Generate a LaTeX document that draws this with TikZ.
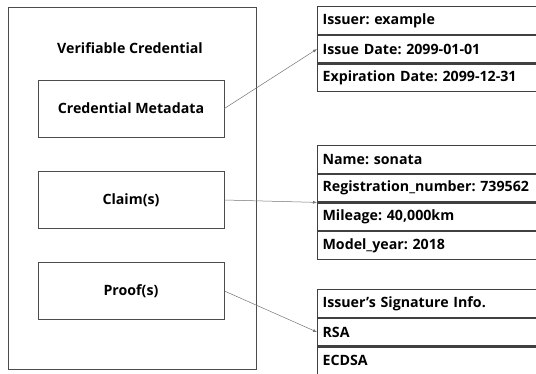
\documentclass[tikz,border=0pt]{standalone}
\usepackage{fontspec}
\setmainfont{Open Sans}
\frenchspacing
\usepackage{tikz}
\usetikzlibrary{calc,arrows.meta}

\tikzset{
    part/.style={draw=black!70, line width=0.8pt, minimum width=186pt, minimum height=57pt, font=\bfseries\fontsize{14.2}{16}\selectfont},
    row/.style={draw=black!75, line width=1.2pt, anchor=north west, minimum height=27.5pt, text width=240pt, inner xsep=5pt, align=left, font=\bfseries\fontsize{14.2}{16}\selectfont},
    link/.style={draw=black!55, line width=0.5pt, -{Latex[length=4pt,width=3pt]}}
}

\begin{document}
\begin{tikzpicture}[x=1pt,y=-1pt]
            \useasboundingbox (0,0) rectangle (536,373);
            \clip (0,0) rectangle (536,373);

            % the credential and its three parts
            \node[draw=black!70, line width=0.8pt, anchor=north west, minimum width=248pt, minimum height=362pt] (vc) at (8,7) {};
            \node[font=\bfseries\fontsize{14.2}{16}\selectfont] (title) at (130,48) {Verifiable Credential};
            \node[part] (meta) at (131,108.5) {Credential Metadata};
            \node[part] (claim) at (131,200) {Claim(s)};
            \node[part] (proof) at (131,291) {Proof(s)};

            % metadata fields
            \node[row] (iss) at (317,6) {Issuer: example};
            \node[row] (dat) at (iss.south west) {Issue Date: 2099-01-01};
            \node[row] (exp) at (dat.south west) {Expiration Date: 2099-12-31};

            % claim fields
            \node[row] (nam) at (317,145) {Name: sonata};
            \node[row] (reg) at (nam.south west) {Registration\_number: 739562};
            \node[row] (mil) at (reg.south west) {Mileage: 40,000km};
            \node[row] (yea) at (mil.south west) {Model\_year: 2018};

            % proof fields
            \node[row] (sig) at (317,289) {Issuer’s Signature Info.};
            \node[row] (rsa) at (sig.south west) {RSA};
            \node[row] (ecd) at (rsa.south west) {ECDSA};

            \coordinate (regend) at (reg.south west);
            \draw[link] (meta.east) -- (dat.west);
            \draw[link] (claim.east) -- (regend);
            \draw[link] (proof.east) -- (rsa.west);
        \end{tikzpicture}
\end{document}
